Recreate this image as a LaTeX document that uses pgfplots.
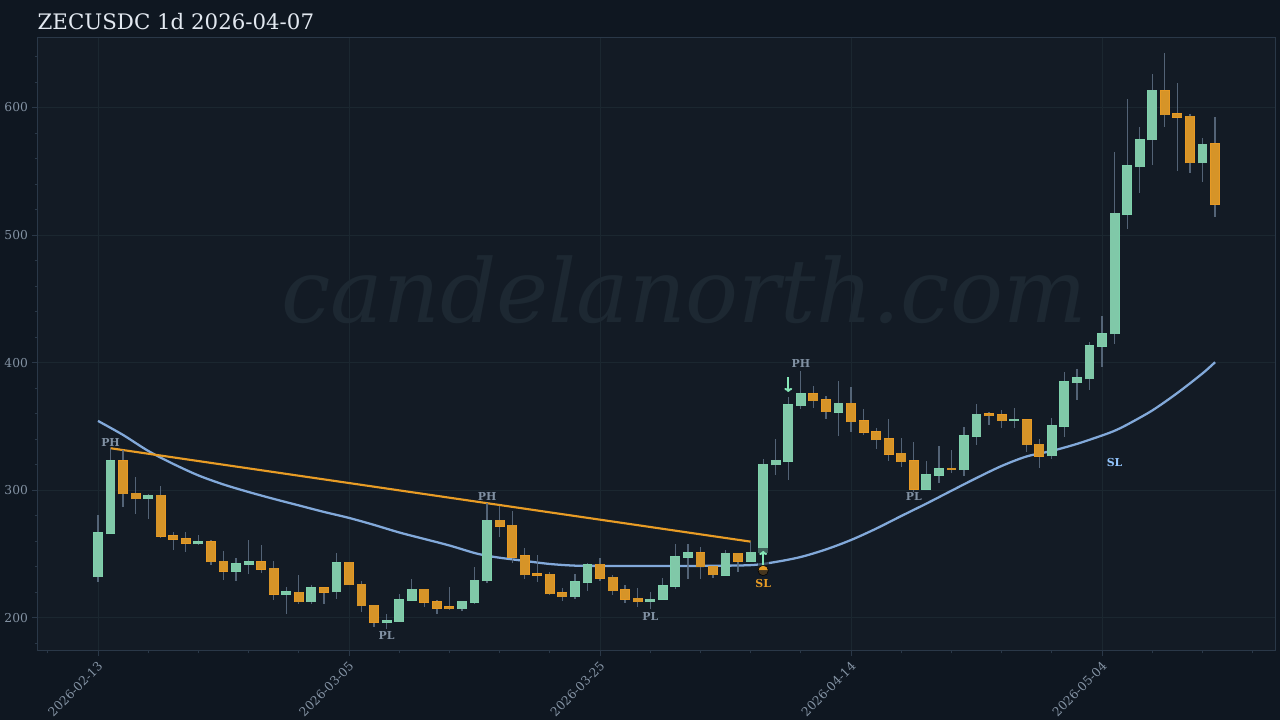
\documentclass[border=0pt]{standalone}
\usepackage{fontspec}
\setmainfont{DejaVu Serif}
\usepackage{pgfplots}
\usepackage{pgfplotstable}
\pgfplotsset{compat=1.18}
\usetikzlibrary{arrows.meta}
\usetikzlibrary{plotmarks}
\definecolor{figbg}{HTML}{0F1721}
\definecolor{axbg}{HTML}{131B25}
\definecolor{spine}{HTML}{2A3848}
\definecolor{gridc}{HTML}{1B2730}
\definecolor{tickc}{HTML}{8594A5}
\definecolor{titlec}{HTML}{E2E8F0}
\definecolor{wm}{HTML}{1D2832}
\definecolor{wick}{HTML}{5F7085}
\definecolor{up}{HTML}{80C8A8}
\definecolor{upedge}{HTML}{7ED2AC}
\definecolor{dn}{HTML}{D69428}
\definecolor{dnedge}{HTML}{E89A24}
\definecolor{ema}{HTML}{82A9DA}
\definecolor{trend}{HTML}{E89C25}
\definecolor{lab}{HTML}{8191A3}
\definecolor{arrowc}{HTML}{86E8B8}
\definecolor{slb}{HTML}{93C5FD}
\definecolor{brownm}{HTML}{46361F}
\pgfplotstableread{
x lo hi low high
0 232.4 266.9 228.4 280.7
1 266.4 323.3 266.4 333
4 293.5 296.2 277.8 296.9
8 258.2 259.8 257.8 264.8
11 236.8 242.6 229 247
12 242.1 244.1 234.5 261.1
15 218.6 220.4 203.4 224
17 212.8 223.7 211.2 225.6
19 220.4 243.3 215.1 250.9
23 196.6 197.6 191.6 203.1
24 197.1 214.1 197.1 218.6
25 213.9 222.5 213.9 230.6
29 207.3 213.1 205.5 213.1
30 212.5 229.5 211 239.7
31 229.2 276.6 227.2 289.9
38 216.7 228.2 214.7 234.2
39 228 241.8 221.4 242.9
44 212.8 214.7 207.1 220.1
45 214.7 225.3 214.7 231.3
46 225.1 248 223 258.2
47 247.6 251.2 230.8 258
50 233.7 250.7 233.7 253.3
52 244.4 251.5 244.4 259.8
53 251.2 320.5 251.2 324.4
54 320.1 323.6 312.3 340.3
55 323 366.9 308.1 373.4
56 366.4 375.5 363.6 393.8
59 361.4 368.2 342.9 385.7
66 301.1 312.1 301.1 323
67 311.8 316.8 306 334.8
69 316.2 342.6 311.3 349.4
70 342.4 359.6 335.6 367.5
73 354.6 355.7 348.9 364.6
76 327 350.5 324.4 356.5
77 350.2 385 342.1 392.8
78 384.4 388.1 370.8 395.1
79 387.5 413.4 378.7 416
80 412.9 422.6 396.9 436.7
81 422.8 517.2 414.7 565
82 516.6 554.5 504.6 606.5
83 553.7 574.9 533.3 585
84 574.6 613.5 555 626.3
88 556.6 571.2 541.4 576.4
}\upc
\pgfplotstableread{
x lo hi low high
2 297.2 323 287.2 331.6
3 293.3 297.7 281.5 310.3
5 264 296.2 262.5 303.2
6 261.7 264.3 253.5 267.4
7 258.5 261.9 252 267.2
9 244.1 259.6 241.3 260.9
10 236.8 244.4 229.8 252.5
13 238.2 244.1 235.3 257.2
14 218.8 238.9 214.1 244.4
16 212.8 220.1 211.2 233.7
18 220.1 223.7 211 223.7
20 225.9 243.7 225.9 243.7
21 209.6 226.4 204.9 229.2
22 196.6 210 193.2 210
26 212.3 222.5 208.6 222.5
27 207.8 212.8 203.1 214.1
28 207.3 208.6 206.8 224.3
32 272.1 276.6 263.7 287.8
33 247.8 272.6 243.3 284.1
34 233.9 248.6 230.6 255.1
35 233.7 234.5 228.4 249.4
36 219 234.2 218 235.8
37 216.7 219.8 213.3 223.3
40 231.1 242.1 229.2 246.8
41 221.4 231.9 218 233.9
42 214.9 221.9 211.8 225.6
43 212.8 215.4 208.9 223.3
48 240.2 251.2 230.8 255.4
49 233.9 240.5 231.6 240.5
51 244.4 250.7 236.3 250.7
57 370.3 375.5 364.6 381.8
58 361.7 370.8 356.2 374.2
60 353.8 368.2 345.5 380.8
61 345.5 354.4 343.7 363.8
62 339.7 346 332.7 349.1
63 328.5 340.3 322.8 356
64 322.5 329.1 318.1 341.1
65 301.1 323.3 299 337.7
68 316.2 317.3 313.9 331.7
71 358.5 359.9 351.5 361.4
72 354.6 359.1 348.7 363
74 335.8 355.2 330.3 355.2
75 326.7 336.1 317.6 340.3
85 594.4 613.2 585 642.5
86 592.6 595 550 619
87 556.6 593.2 548.7 594.7
89 524.2 571.7 514.5 592.4
}\dnc
\pgfplotstableread{
x y
0 354.4
2 343.4
4 330.9
6 320.7
8 311.7
10 304.6
12 298.7
14 293.3
16 288.2
18 283.1
20 278.4
22 272.9
24 267
26 261.9
28 256.8
30 250.9
31 248.8
32 247.2
34 244.7
36 242.3
38 241
40 240.8
44 240.8
48 240.8
52 241.4
54 243.9
56 247.8
58 253.7
60 261.1
62 270
64 279.9
66 289.6
68 299.7
70 309.7
72 319.1
74 326.6
76 330.9
78 336.4
80 343
81 346.7
82 351.5
84 362.6
86 376.3
88 391.6
89 400.4
}\emat
\newcommand{\wicks}[1]{%
  \addplot[draw=none,mark=none,forget plot,
    error bars/.cd,y dir=both,y explicit,error mark=none,
    error bar style={wick,opacity=.85,line width=.95pt,line cap=butt}]
    table[x=x,y=lo,y error plus expr=\thisrow{high}-\thisrow{lo},y error minus expr=\thisrow{lo}-\thisrow{low}]{#1};}
\newcommand{\bodies}[3]{%
  \addplot[draw=none,mark=none,forget plot,
    error bars/.cd,y dir=plus,y explicit,error mark=none,
    error bar style={#2,line width=7.4pt,line cap=butt}]
    table[x=x,y expr=\thisrow{lo}-.45,y error plus expr=\thisrow{hi}-\thisrow{lo}+.9]{#1};
  \addplot[draw=none,mark=none,forget plot,
    error bars/.cd,y dir=plus,y explicit,error mark=none,
    error bar style={#3,line width=6.4pt,line cap=butt}]
    table[x=x,y=lo,y error plus expr=\thisrow{hi}-\thisrow{lo}]{#1};}
\begin{document}
\begin{tikzpicture}[x=1pt,y=1pt]
\useasboundingbox (0,0) rectangle (960,540);
\fill[figbg] (0,0) rectangle (960,540);
\node[anchor=base west,inner sep=0,text=titlec,font=\fontsize{16}{18}\selectfont] at (28,518) {ZECUSDC 1d 2026-04-07};
\begin{axis}[
  at={(28.125pt,52.125pt)},anchor=south west,
  scale only axis,width=928.5pt,height=459.4pt,
  xmin=-4.82,xmax=93.82,ymin=174.5,ymax=654.5,
  axis background/.style={fill=axbg},
  axis line style={spine,line width=.75pt},
  xtick={0,20,40,60,80},
  xticklabels={2026-02-13,2026-03-05,2026-03-25,2026-04-14,2026-05-04},
  minor xtick={-4,4,8,12,16,24,28,32,36,44,48,52,56,64,68,72,76,84,88,92},
  ytick={200,300,400,500,600},
  minor ytick={180,220,240,260,280,320,340,360,380,420,440,460,480,520,540,560,580,620,640},
  tick align=outside,xtick pos=bottom,ytick pos=left,
  major tick length=3.8pt,minor tick length=2.2pt,
  every tick/.style={spine,line width=.7pt},
  grid=major,major grid style={gridc,line width=.7pt},
  tick label style={text=tickc,font=\fontsize{9.2}{11}\selectfont},
  /pgf/number format/assume math mode=true,
  /pgf/number format/fixed,
  x tick label style={rotate=45,anchor=north east,inner sep=1pt,yshift=-1pt,xshift=-2pt},
  y tick label style={inner sep=2pt,xshift=-1.2pt},
  clip=false,
  axis on top=false,
]
\node[text=wm,font=\fontsize{66}{70}\selectfont\itshape,anchor=center] at (axis cs:46.7,457) {candelanorth.com};
\addplot[ema,line width=1.7pt,smooth,tension=.5,forget plot] table[x=x,y=y]{\emat};
\addplot[trend,line width=1.6pt,forget plot] coordinates {(1,333) (52,259.8)};
\wicks{\upc}
\wicks{\dnc}
\bodies{\upc}{upedge}{up}
\bodies{\dnc}{dnedge}{dn}
\addplot[axbg,line width=8pt,opacity=.6,forget plot] coordinates {(53,241) (53,255)};
\addplot[only marks,mark=halfcircle*,mark size=3.9pt,mark color=brownm,mark options={fill=trend,draw=none},forget plot] coordinates {(53,237.2)};
\addplot[arrowc,line width=1.5pt,-{To[length=3pt,width=6pt]},forget plot] coordinates {(53,240) (53,252.5)};
\addplot[arrowc,line width=1.5pt,-{To[length=3pt,width=6pt]},forget plot] coordinates {(55,388.5) (55,377.1)};
\tikzset{pl/.style={text=lab,font=\fontsize{8.2}{9}\selectfont\bfseries,inner sep=0}}
\node[pl] at (axis cs:1,337.5) {PH};
\node[pl] at (axis cs:31,295) {PH};
\node[pl] at (axis cs:56,399.5) {PH};
\node[pl] at (axis cs:23,186) {PL};
\node[pl] at (axis cs:44,201) {PL};
\node[pl] at (axis cs:65,295) {PL};
\node[pl,text=trend] at (axis cs:53,227) {SL};
\node[pl,text=slb] at (axis cs:81,322) {SL};
\end{axis}
\end{tikzpicture}
\end{document}
